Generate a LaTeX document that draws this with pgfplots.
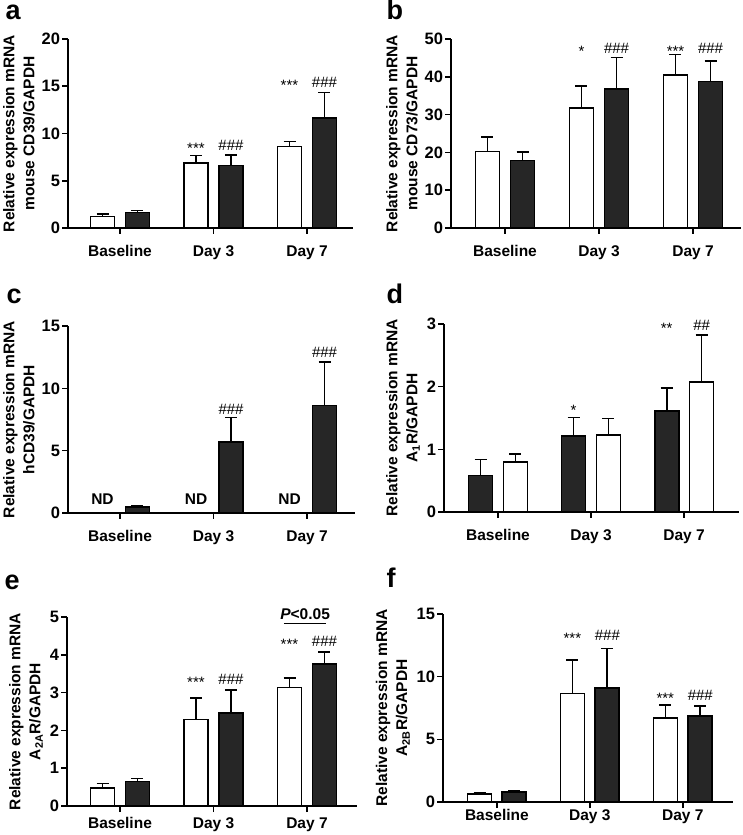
\documentclass[border=0pt]{standalone}
\usepackage{fontspec}
\setmainfont{Liberation Sans}
\usepackage{pgfplots}
\pgfplotsset{compat=1.18}
\definecolor{barblack}{HTML}{262626}

\pgfplotsset{
  panel/.style={
    scale only axis, anchor=south west,
    axis x line*=bottom, axis y line*=left,
    axis line style={line width=1.6pt, black},
    tick style={line width=1.6pt, black},
    major tick length=6pt,
    tick align=outside,
    xtick={0,1,2}, xticklabels={Baseline,Day 3,Day 7},
    ymin=0, clip=false,
    /pgf/number format/assume math mode=true,
    tick label style={font=\fontsize{15.5}{18}\selectfont\bfseries},
    yticklabel style={font=\fontsize{16.5}{18}\selectfont\bfseries, xshift=1.5pt},
    xticklabel style={yshift=-8pt},
    label style={font=\fontsize{15.5}{20}\selectfont\bfseries, align=center},
  },
  wbar/.style={ybar, bar width=24pt, fill=white, draw=black, line width=1.6pt, bar shift=0pt,
    error bars/.cd, y dir=plus, y explicit, error bar style={line width=1.6pt, black},
    error mark options={rotate=90, mark size=6pt, line width=1.6pt, black}},
  kbar/.style={ybar, bar width=24pt, fill=barblack, draw=black, line width=1.6pt, bar shift=0pt,
    error bars/.cd, y dir=plus, y explicit, error bar style={line width=1.6pt, black},
    error mark options={rotate=90, mark size=6pt, line width=1.6pt, black}},
}
\tikzset{
  star/.style={font=\fontsize{15}{18}\selectfont, anchor=base, yshift=-8pt},
  hash/.style={font=\fontsize{15}{18}\selectfont, anchor=base, yshift=-5pt},
  plabel/.style={font=\fontsize{27}{30}\selectfont\bfseries, anchor=base west},
}

\begin{document}
\begin{tikzpicture}[x=1pt,y=1pt]
\useasboundingbox (0,0) rectangle (742,835);

\node[plabel] at (2,815) {a};
\node[plabel] at (383,815) {b};
\node[plabel] at (3,531) {c};
\node[plabel] at (383,531) {d};
\node[plabel] at (1,245) {e};
\node[plabel] at (383,247) {f};

% ---------- a
\begin{axis}[panel, at={(68pt,607pt)}, width=285pt, height=189pt,
  xmin=-0.556, xmax=2.492, ymax=20, ytick={0,5,10,15,20},
  ylabel={Relative expression mRNA\\mouse CD39/GAPDH}]
\addplot[wbar] table[x=x,y=y,y error=e] {
x y e
-0.187 1.23 0.25
0.813 6.85 0.82
1.813 8.64 0.53
};
\addplot[kbar] table[x=x,y=y,y error=e] {
x y e
0.187 1.62 0.22
1.187 6.60 1.15
2.187 11.64 2.68
};
\node[star, xshift=-17.5pt] at (axis cs:1,8.75) {***};
\node[hash, xshift=17.5pt] at (axis cs:1,8.75) {\#\#\#};
\node[star, xshift=-17.5pt] at (axis cs:2,15.4) {***};
\node[hash, xshift=17.5pt] at (axis cs:2,15.4) {\#\#\#};
\end{axis}

% ---------- b
\begin{axis}[panel, at={(451pt,607pt)}, width=290pt, height=189pt,
  xmin=-0.574, xmax=2.51, ymax=50, ytick={0,10,20,30,40,50},
  ylabel={Relative expression mRNA\\mouse CD73/GAPDH}]
\addplot[wbar] table[x=x,y=y,y error=e] {
x y e
-0.187 20.2 3.8
0.813 31.7 5.8
1.813 40.5 5.4
};
\addplot[kbar] table[x=x,y=y,y error=e] {
x y e
0.187 17.9 2.2
1.187 36.7 8.4
2.187 38.8 5.4
};
\node[star, xshift=-17.5pt] at (axis cs:1,47.6) {*};
\node[hash, xshift=17.5pt] at (axis cs:1,47.6) {\#\#\#};
\node[star, xshift=-17.5pt] at (axis cs:2,47.6) {***};
\node[hash, xshift=17.5pt] at (axis cs:2,47.6) {\#\#\#};
\end{axis}

% ---------- c
\begin{axis}[panel, at={(68pt,322pt)}, width=287pt, height=187pt,
  xmin=-0.556, xmax=2.513, ymax=15, ytick={0,5,10,15},
  ylabel={Relative expression mRNA\\hCD39/GAPDH}]
\addplot[ybar, bar width=24pt, fill=white, draw=black, line width=1.6pt, bar shift=0pt] table[x=x,y=y] {
x y
-0.187 0.04
0.813 0.04
1.813 0.04
};
\addplot[kbar] table[x=x,y=y,y error=e] {
x y e
0.187 0.48 0.12
1.187 5.68 1.97
2.187 8.61 3.52
};
\node[font=\fontsize{15.5}{18}\selectfont\bfseries, xshift=-17.5pt] at (axis cs:0,1.07) {ND};
\node[font=\fontsize{15.5}{18}\selectfont\bfseries, xshift=-17.5pt] at (axis cs:1,1.07) {ND};
\node[font=\fontsize{15.5}{18}\selectfont\bfseries, xshift=-17.5pt] at (axis cs:2,1.07) {ND};
\node[hash, xshift=17.5pt] at (axis cs:1,8.32) {\#\#\#};
\node[hash, xshift=17.5pt] at (axis cs:2,12.85) {\#\#\#};
\end{axis}

% ---------- d
\begin{axis}[panel, at={(444pt,323pt)}, width=295pt, height=188pt,
  xmin=-0.58, xmax=2.59, ymax=3, ytick={0,1,2,3},
  ylabel={Relative expression mRNA\\A\textsubscript{1}R/GAPDH}]
\addplot[kbar] table[x=x,y=y,y error=e] {
x y e
-0.187 0.58 0.255
0.813 1.21 0.30
1.813 1.61 0.37
};
\addplot[wbar] table[x=x,y=y,y error=e] {
x y e
0.187 0.80 0.125
1.187 1.23 0.26
2.187 2.07 0.75
};
\node[star, xshift=-17.5pt] at (axis cs:1,1.66) {*};
\node[star, xshift=-17.5pt] at (axis cs:2,2.97) {**};
\node[hash, xshift=17.5pt] at (axis cs:2,2.97) {\#\#};
\end{axis}

% ---------- e
\begin{axis}[panel, at={(67pt,29pt)}, width=290pt, height=189pt,
  xmin=-0.567, xmax=2.535, ymax=5, ytick={0,1,2,3,4,5},
  xticklabel style={yshift=6pt},
  ylabel={Relative expression mRNA\\A\textsubscript{2A}R/GAPDH}]
\addplot[wbar] table[x=x,y=y,y error=e] {
x y e
-0.187 0.47 0.12
0.813 2.29 0.56
1.813 3.13 0.26
};
\addplot[kbar] table[x=x,y=y,y error=e] {
x y e
0.187 0.65 0.08
1.187 2.46 0.61
2.187 3.75 0.32
};
\node[star, xshift=-17.5pt] at (axis cs:1,3.34) {***};
\node[hash, xshift=17.5pt] at (axis cs:1,3.34) {\#\#\#};
\node[star, xshift=-17.5pt] at (axis cs:2,4.34) {***};
\node[hash, xshift=17.5pt] at (axis cs:2,4.34) {\#\#\#};
\draw[line width=1.2pt] (axis cs:1.754,4.83) -- (axis cs:2.203,4.83);
\node[font=\fontsize{15.5}{18}\selectfont\bfseries] at (axis cs:1.98,5.08) {\textit{P}<0.05};
\end{axis}

% ---------- f
\begin{axis}[panel, at={(443pt,33pt)}, width=290pt, height=188pt,
  xmin=-0.58, xmax=2.54, ymax=15, ytick={0,5,10,15},
  xticklabel style={yshift=10pt},
  ylabel={Relative expression mRNA\\A\textsubscript{2B}R/GAPDH}]
\addplot[wbar] table[x=x,y=y,y error=e] {
x y e
-0.187 0.64 0.08
0.813 8.65 2.69
1.813 6.69 1.06
};
\addplot[kbar] table[x=x,y=y,y error=e] {
x y e
0.187 0.80 0.10
1.187 9.08 3.18
2.187 6.85 0.82
};
\node[star, xshift=-17.5pt] at (axis cs:1,13.27) {***};
\node[hash, xshift=17.5pt] at (axis cs:1,13.27) {\#\#\#};
\node[star, xshift=-17.5pt] at (axis cs:2,8.47) {***};
\node[hash, xshift=17.5pt] at (axis cs:2,8.47) {\#\#\#};
\end{axis}
\end{tikzpicture}
\end{document}
